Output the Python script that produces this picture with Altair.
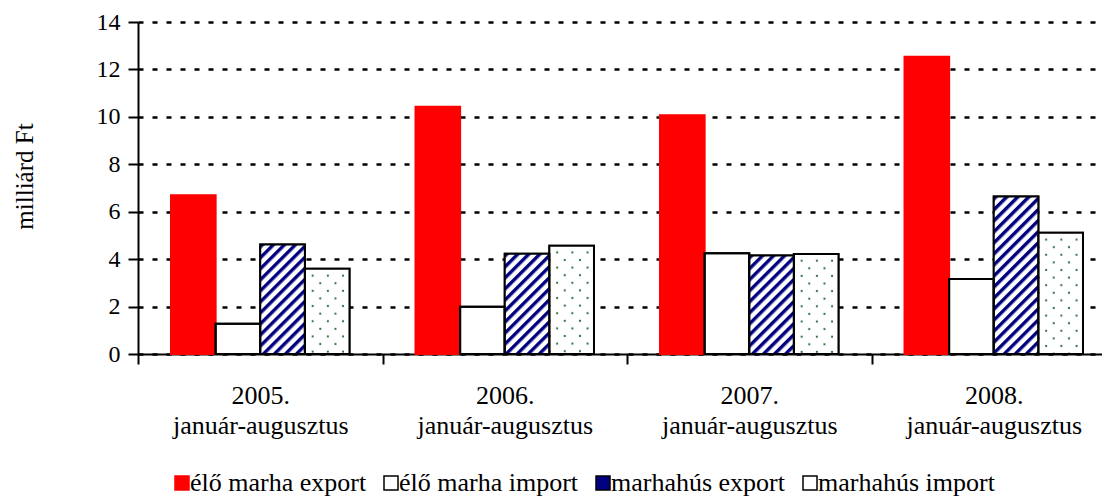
import altair as alt
import pandas as pd
from urllib.parse import quote

# ---- data ----
years = ["2005.", "2006.", "2007.", "2008."]
period = "január-augusztus"
series = ["élő marha export", "élő marha import", "marhahús export", "marhahús import"]
elo_marha_export = [6.69, 10.43, 10.07, 12.53]
elo_marha_import = [1.28, 1.99, 4.25, 3.16]
marhahus_export = [4.62, 4.23, 4.15, 6.64]
marhahus_import = [3.59, 4.57, 4.22, 5.11]
y_ticks = [0, 2, 4, 6, 8, 10, 12, 14]

# ---- fill patterns (drawn as images inside the bars) ----
hatch_svg = (
    "<svg xmlns='http://www.w3.org/2000/svg' width='100%' height='100%'>"
    "<defs><pattern id='p' width='7.8' height='7.8' patternUnits='userSpaceOnUse' "
    "patternTransform='rotate(45)'><rect width='7.8' height='7.8' fill='white'/>"
    "<rect width='3.4' height='7.8' fill='#000080'/></pattern></defs>"
    "<rect width='100%' height='100%' fill='url(#p)'/></svg>"
)
dots_svg = (
    "<svg xmlns='http://www.w3.org/2000/svg' width='100%' height='100%'>"
    "<defs><pattern id='d' x='4' y='3' width='15.2' height='15.2' patternUnits='userSpaceOnUse'>"
    "<rect width='15.2' height='15.2' fill='white'/>"
    "<circle cx='3.8' cy='3.8' r='1.1' fill='#2f6a3c'/>"
    "<circle cx='11.4' cy='11.4' r='1.1' fill='#2f6a3c'/></pattern></defs>"
    "<rect width='100%' height='100%' fill='url(#d)'/></svg>"
)
hatch_url = "data:image/svg+xml;charset=utf-8," + quote(hatch_svg)
dots_url = "data:image/svg+xml;charset=utf-8," + quote(dots_svg)
pattern_of = {series[2]: hatch_url, series[3]: dots_url}

cats = [f"{y}|{period}" for y in years]
rows = []
for i, c in enumerate(cats):
    for s, vals in zip(series, [elo_marha_export, elo_marha_import, marhahus_export, marhahus_import]):
        rows.append({"year": c, "series": s, "value": vals[i], "img": pattern_of.get(s, "")})
df = pd.DataFrame(rows)

FONT = "Liberation Serif"

x_enc = alt.X(
    "year:N", sort=cats, title=None,
    scale=alt.Scale(domain=cats, paddingInner=0, paddingOuter=0, range=[0, 978]),
    axis=alt.Axis(
        labelExpr="split(datum.label, '|')", labelAngle=0, tickBand="extent",
        grid=False, domainColor="black", domainWidth=2, tickColor="black", tickWidth=2,
        tickSize=10, labelFont=FONT, labelFontSize=26, labelColor="black",
        labelPadding=18, labelLineHeight=30, labelLimit=400,
    ),
)
xo_enc = alt.XOffset(
    "series:N", sort=series,
    scale=alt.Scale(domain=series, paddingInner=0, paddingOuter=0.74),
)
y_enc = alt.Y(
    "value:Q",
    scale=alt.Scale(domain=[0, 14], nice=False),
    axis=alt.Axis(
        values=y_ticks, title="milliárd Ft", grid=True, gridColor="black",
        gridDash=[5, 9], gridWidth=2.5, domainColor="black", domainWidth=2,
        tickColor="black", tickWidth=2, tickSize=10, labelFont=FONT, labelFontSize=24,
        labelColor="black", labelPadding=8, titleFont=FONT, titleFontSize=25,
        titleFontWeight="normal", titleColor="black", titleAngle=270, titleX=-114,
        titleY=154, titleAlign="center", titleBaseline="middle",
    ),
)

legend = alt.Legend(
    title=None, orient="none", legendX=31, legendY=448, direction="horizontal",
    columns=4, symbolType="square", symbolSize=196, symbolStrokeWidth=1.5,
    labelFont=FONT, labelFontSize=26, labelColor="black", labelOffset={"expr": "-5"},
    columnPadding=11, labelLimit=400,
)

bars = alt.Chart(df).mark_bar(strokeWidth=2).encode(
    x=x_enc, xOffset=xo_enc, y=y_enc,
    fill=alt.Fill("series:N", sort=series,
                  scale=alt.Scale(domain=series, range=["#ff0000", "#ffffff", "#000080", "#ffffff"]),
                  legend=legend),
    stroke=alt.Stroke("series:N", sort=series,
                      scale=alt.Scale(domain=series, range=["#ff0000", "#000000", "#000000", "#000000"]),
                      legend=legend),
)

patterns = alt.Chart(df).transform_filter("datum.img != ''").mark_image(aspect=False).encode(
    x=x_enc, xOffset=xo_enc, y=y_enc, y2=alt.Y2Datum(0), url="img:N",
)

outlines = alt.Chart(df).transform_filter(f"datum.series != '{series[0]}'").mark_bar(
    fillOpacity=0, stroke="black", strokeWidth=2
).encode(x=x_enc, xOffset=xo_enc, y=y_enc)

chart = alt.layer(bars, patterns, outlines).properties(
    width=964, height=332,
    autosize=alt.AutoSizeParams(type="none"),
    padding={"left": 130, "top": 14, "right": 0, "bottom": 150},
    background="white",
).configure_view(strokeWidth=0)

chart.save("out.html", embed_options={"renderer": "svg", "actions": False})
